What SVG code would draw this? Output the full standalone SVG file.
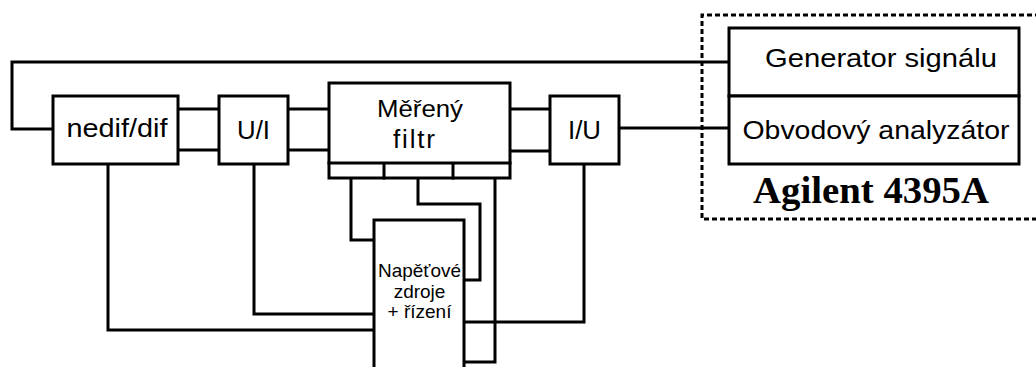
<svg xmlns="http://www.w3.org/2000/svg" width="1036" height="367" viewBox="0 0 1036 367">
<style>
.b{fill:#fff;stroke:#000;stroke-width:3}
.w{fill:none;stroke:#000;stroke-width:3;stroke-linejoin:miter;stroke-linecap:square}
.t{font-family:"Liberation Sans",Arial,sans-serif;fill:#000;text-anchor:middle}
.d{fill:none;stroke:#000;stroke-width:3;stroke-dasharray:5 3}
</style>
<rect width="1036" height="367" fill="#fff"/>
<g id="connectors">
<path class="w" d="M729,62 H12 V129 H53"/>
<path class="w" d="M178,109 H219 M178,150 H219"/>
<path class="w" d="M288,109 H329 M288,150 H329"/>
<path class="w" d="M510,109 H550 M510,151 H550"/>
<path class="w" d="M619,128 H729"/>
<path class="w" d="M351,178 V240 H374"/>
<path class="w" d="M418,178 V204 H480 V280 H464"/>
<path class="w" d="M495,178 V362 H464"/>
<path class="w" d="M108,164 V330 H374"/>
<path class="w" d="M254,164 V314 H374"/>
<path class="w" d="M584,164 V322 H464"/>
</g>
<g id="agilent">
<path class="d" d="M1040,15 H702 V219 H1040"/>
<text x="871" y="203" font-family="'Liberation Serif','Times New Roman',serif" font-weight="bold" font-size="38" text-anchor="middle" textLength="236" lengthAdjust="spacingAndGlyphs">Agilent 4395A</text>
</g>
<g id="generator">
<rect class="b" x="729" y="28" width="290" height="68"/>
<text class="t" x="881" y="67" font-size="26" textLength="232" lengthAdjust="spacingAndGlyphs">Generator signálu</text>
</g>
<g id="analyzator">
<rect class="b" x="729" y="96" width="290" height="68"/>
<text class="t" x="876" y="139" font-size="25" textLength="267" lengthAdjust="spacingAndGlyphs">Obvodový analyzátor</text>
</g>
<g id="nedif">
<rect class="b" x="53" y="96" width="125" height="68"/>
<text class="t" x="117" y="137" font-size="26" textLength="101" lengthAdjust="spacingAndGlyphs">nedif/dif</text>
</g>
<g id="ui">
<rect class="b" x="219" y="96" width="69" height="68"/>
<text class="t" x="253.5" y="139" font-size="26" textLength="33" lengthAdjust="spacingAndGlyphs">U/I</text>
</g>
<g id="filtr">
<rect class="b" x="329" y="83" width="181" height="95"/>
<path class="w" d="M329,163 H510 M384,163 V178 M453,163 V178"/>
<text class="t" x="420" y="117" font-size="24" textLength="86" lengthAdjust="spacingAndGlyphs">Měřený</text>
<text class="t" x="414" y="148" font-size="26" textLength="42" lengthAdjust="spacing">filtr</text>
</g>
<g id="iu">
<rect class="b" x="550" y="96" width="69" height="68"/>
<text class="t" x="584.5" y="139" font-size="26" textLength="33" lengthAdjust="spacingAndGlyphs">I/U</text>
</g>
<g id="zdroje">
<rect class="b" x="374" y="220" width="90" height="160"/>
<text class="t" x="419.5" y="277" font-size="19" textLength="83" lengthAdjust="spacingAndGlyphs">Napěťové</text>
<text class="t" x="419.5" y="298" font-size="19">zdroje</text>
<text class="t" x="419.5" y="318" font-size="19">+ řízení</text>
</g>
</svg>
